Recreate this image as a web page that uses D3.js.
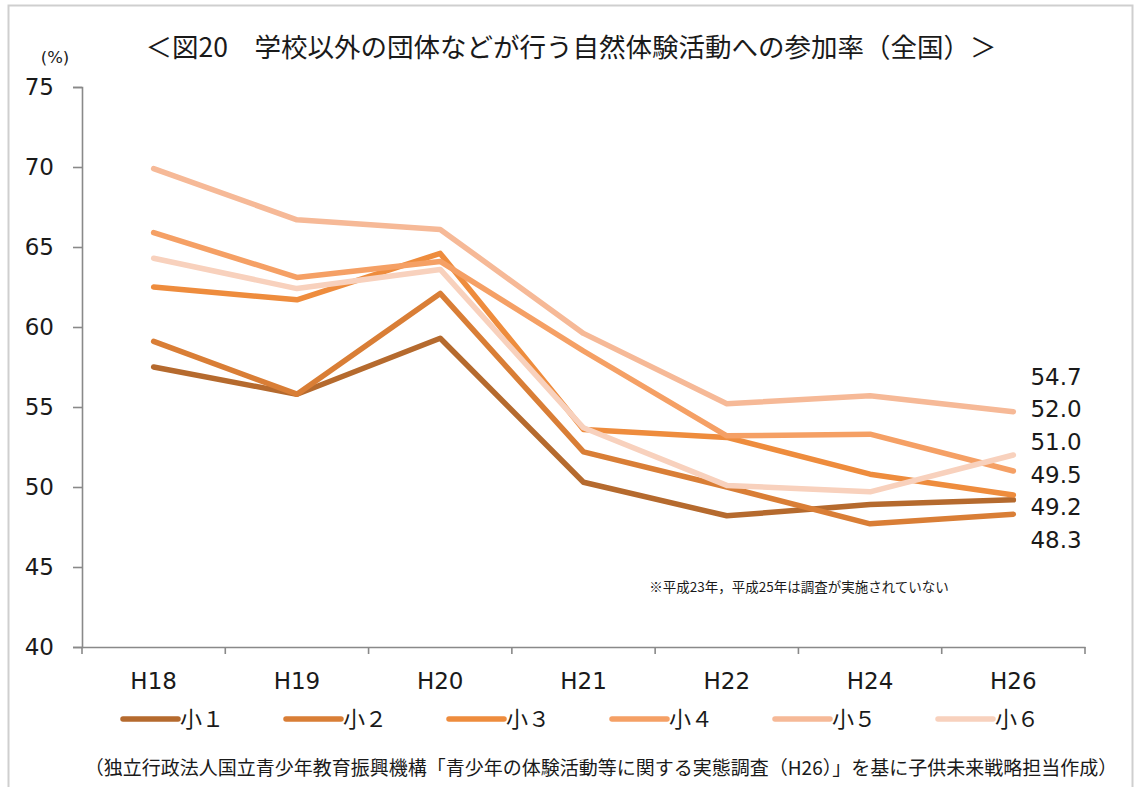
<!DOCTYPE html>
<html>
<head>
<meta charset="utf-8">
<script src="https://cdn.jsdelivr.net/npm/d3@7"></script>
<style>
  body { margin: 0; background: #fff; }
  svg { display: block; }
  text { fill: #1a1a1a; }
</style>
</head>
<body>
<div id="chart"></div>
<script>
const years = ['H18', 'H19', 'H20', 'H21', 'H22', 'H24', 'H26'];
const grades = ['小１', '小２', '小３', '小４', '小５', '小６'];
const colors = ['#b56a2e', '#d97e36', '#ee8c3d', '#f5a065', '#f6b997', '#f8d1bd'];

const g1 = [57.5, 55.8, 59.3, 50.3, 48.2, 48.9, 49.2];
const g2 = [59.1, 55.8, 62.1, 52.2, 50.0, 47.7, 48.3];
const g3 = [62.5, 61.7, 64.6, 53.6, 53.1, 50.8, 49.5];
const g4 = [65.9, 63.1, 64.1, 58.5, 53.2, 53.3, 51.0];
const g5 = [69.9, 66.7, 66.1, 59.6, 55.2, 55.7, 54.7];
const g6 = [64.3, 62.4, 63.6, 53.7, 50.1, 49.7, 52.0];
const series = [g1, g2, g3, g4, g5, g6];

const yTicks = [40, 45, 50, 55, 60, 65, 70, 75];

const W = 1135, H = 787;
const margin = {left: 82, right: 50, top: 87, bottom: 140};
const font = "'DejaVu Sans', 'Noto Sans CJK JP', sans-serif";
const jpFont = "'Noto Sans CJK JP', sans-serif";

const svg = d3.select('#chart').append('svg')
  .attr('width', W)
  .attr('height', H);

// outer frame
svg.append('rect')
  .attr('x', 8.5).attr('y', 5.5)
  .attr('width', 1124).attr('height', 820)
  .attr('fill', 'none')
  .attr('stroke', '#cfcfcf')
  .attr('stroke-width', 2);

const x = d3.scaleBand()
  .domain(years)
  .range([margin.left, W - margin.right]);

const y = d3.scaleLinear()
  .domain([40, 75])
  .range([H - margin.bottom, margin.top]);

const axisColor = '#898989';

// y axis
const yAxis = svg.append('g')
  .attr('transform', `translate(${margin.left},0)`)
  .call(d3.axisLeft(y).tickValues(yTicks).tickSize(9).tickPadding(19));
yAxis.select('.domain').attr('stroke', axisColor).attr('stroke-width', 1.6);
yAxis.selectAll('.tick line').attr('stroke', axisColor).attr('stroke-width', 1.6);
yAxis.selectAll('.tick text')
  .attr('font-family', font)
  .attr('font-size', 23)
  .attr('fill', '#111');

// x axis
const xAxis = svg.append('g')
  .attr('transform', `translate(0,${y(40)})`)
  .call(d3.axisBottom(x).tickSize(0).tickPadding(26));
xAxis.select('.domain').attr('stroke', axisColor).attr('stroke-width', 1.6);
xAxis.selectAll('.tick text')
  .attr('font-family', font)
  .attr('font-size', 23)
  .attr('fill', '#111');
// tick marks on band boundaries
xAxis.selectAll('.bound')
  .data(years.map(d => x(d)).concat([x(years[years.length - 1]) + x.bandwidth()]))
  .enter().append('line')
  .attr('class', 'bound')
  .attr('x1', d => d).attr('x2', d => d)
  .attr('y1', 0).attr('y2', 7)
  .attr('stroke', axisColor)
  .attr('stroke-width', 1.6);

// lines
const line = d3.line()
  .x((d, i) => x(years[i]) + x.bandwidth() / 2)
  .y(d => y(d));

svg.append('g').selectAll('path')
  .data(series)
  .enter().append('path')
  .attr('d', line)
  .attr('fill', 'none')
  .attr('stroke', (d, i) => colors[i])
  .attr('stroke-width', 5.5)
  .attr('stroke-linecap', 'round')
  .attr('stroke-linejoin', 'round');

// end value labels, stacked in descending order
const last = series.map(s => s[s.length - 1]).sort((a, b) => b - a);
svg.append('g').selectAll('text')
  .data(last)
  .enter().append('text')
  .attr('x', 1056)
  .attr('y', (d, i) => y(last[0]) - 35 + i * 32.6)
  .attr('dy', '0.35em')
  .attr('text-anchor', 'middle')
  .attr('font-family', font)
  .attr('font-size', 23)
  .text(d => d.toFixed(1));

// title
svg.append('text')
  .attr('x', 571).attr('y', 48)
  .attr('dy', '0.35em')
  .attr('text-anchor', 'middle')
  .attr('font-family', jpFont)
  .attr('font-size', 26.5)
  .text('＜図20　学校以外の団体などが行う自然体験活動への参加率（全国）＞');

svg.append('text')
  .attr('x', 55).attr('y', 57)
  .attr('dy', '0.35em')
  .attr('text-anchor', 'middle')
  .attr('font-family', font)
  .attr('font-size', 16.5)
  .text('(%)');

svg.append('text')
  .attr('x', 799).attr('y', 587)
  .attr('dy', '0.35em')
  .attr('text-anchor', 'middle')
  .attr('font-family', jpFont)
  .attr('font-size', 13.5)
  .text('※平成23年，平成25年は調査が実施されていない');

// legend
const legend = svg.append('g').selectAll('g')
  .data(grades)
  .enter().append('g')
  .attr('transform', (d, i) => `translate(${123 + i * 163},719)`);
legend.append('line')
  .attr('x1', 0).attr('x2', 55)
  .attr('stroke', (d, i) => colors[i])
  .attr('stroke-width', 5.5)
  .attr('stroke-linecap', 'round');
legend.append('text')
  .attr('x', 57)
  .attr('dy', '0.35em')
  .attr('font-family', jpFont)
  .attr('font-size', 22)
  .text(d => d);

// source
svg.append('text')
  .attr('x', 601).attr('y', 768)
  .attr('dy', '0.35em')
  .attr('text-anchor', 'middle')
  .attr('font-family', jpFont)
  .attr('font-size', 19)
  .text('（独立行政法人国立青少年教育振興機構「青少年の体験活動等に関する実態調査（H26）」を基に子供未来戦略担当作成）');
</script>
</body>
</html>
